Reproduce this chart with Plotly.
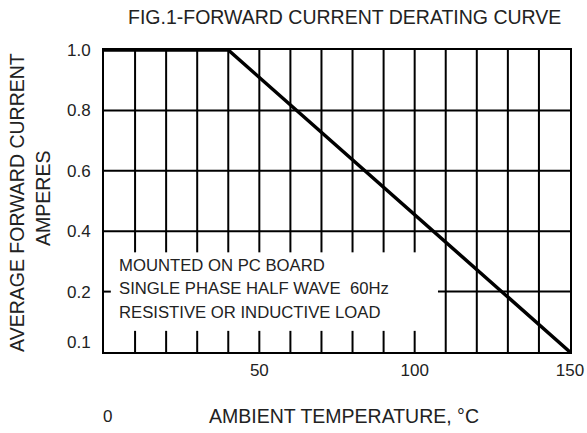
import plotly.graph_objects as go

# ---- data ----
temp_c = [0, 40, 150]             # ambient temperature, °C
current_a = [1.0, 1.0, 0.0]       # average forward current (axis bottom labelled 0.1)

x_ticks = [50, 100, 150]
x_ticktext = ["50", "100", "150"]
y_ticks = [0.033, 0.2, 0.4, 0.6, 0.8, 1.0]
y_ticktext = ["0.1", "0.2", "0.4", "0.6", "0.8", "1.0"]

v_grid_full = [110, 120, 130, 140]
v_grid_partial = [10, 20, 30, 40, 50, 60, 70, 80, 90, 100]
h_grid_full = [0.4, 0.6, 0.8]
h_grid_partial_y = 0.2
h_grid_partial_x0 = 107.5
upper_stub_bottom = 0.33
lower_stub_top = 0.07

note_lines = ["MOUNTED ON PC BOARD",
              "SINGLE PHASE HALF WAVE\u00a0\u00a060Hz",
              "RESISTIVE OR INDUCTIVE LOAD"]
note_y = [0.288, 0.209, 0.132]

FONT = "Liberation Sans, Arial, sans-serif"
LW = 2

fig = go.Figure()
fig.add_trace(go.Scatter(x=temp_c, y=current_a, mode="lines",
                         line=dict(color="black", width=3.5),
                         hoverinfo="skip", showlegend=False))

shapes = []
for xv in v_grid_full:
    shapes.append(dict(type="line", xref="x", yref="y", x0=xv, x1=xv, y0=0, y1=1,
                       line=dict(color="black", width=LW), layer="below"))
for xv in v_grid_partial:
    shapes.append(dict(type="line", xref="x", yref="y", x0=xv, x1=xv, y0=upper_stub_bottom, y1=1,
                       line=dict(color="black", width=LW), layer="below"))
    shapes.append(dict(type="line", xref="x", yref="y", x0=xv, x1=xv, y0=0, y1=lower_stub_top,
                       line=dict(color="black", width=LW), layer="below"))
for yv in h_grid_full:
    shapes.append(dict(type="line", xref="x", yref="y", x0=0, x1=150, y0=yv, y1=yv,
                       line=dict(color="black", width=LW), layer="below"))
shapes.append(dict(type="line", xref="x", yref="y", x0=h_grid_partial_x0, x1=150,
                   y0=h_grid_partial_y, y1=h_grid_partial_y,
                   line=dict(color="black", width=LW), layer="below"))
shapes.append(dict(type="line", xref="x", yref="y", x0=0, x1=2.2,
                   y0=h_grid_partial_y, y1=h_grid_partial_y,
                   line=dict(color="black", width=LW), layer="below"))

annotations = [
    dict(text="FIG.1-FORWARD CURRENT DERATING CURVE", xref="paper", yref="paper",
         x=0.516, y=1.0, yshift=33, xanchor="center", yanchor="middle", showarrow=False,
         font=dict(family=FONT, size=19.5, color="#222")),
    dict(text="AMBIENT TEMPERATURE, °C", xref="paper", yref="paper",
         x=0.514, y=0, yshift=-64, xanchor="center", yanchor="middle", showarrow=False,
         font=dict(family=FONT, size=19.5, color="#222")),
    dict(text="0", xref="x", yref="paper", x=1, y=0, yshift=-64,
         xanchor="center", yanchor="middle", showarrow=False,
         font=dict(family=FONT, size=17, color="#222")),
    dict(text="AVERAGE FORWARD CURRENT", xref="paper", yref="paper",
         x=-0.1867, y=0.497, xanchor="center", yanchor="middle", textangle=-90,
         showarrow=False, font=dict(family=FONT, size=19.5, color="#222")),
    dict(text="AMPERES", xref="paper", yref="paper",
         x=-0.131, y=0.51, xanchor="center", yanchor="middle", textangle=-90,
         showarrow=False, font=dict(family=FONT, size=19.5, color="#222")),
]
for txt, yv in zip(note_lines, note_y):
    annotations.append(dict(text=txt, xref="x", yref="y", x=4.3, y=yv,
                            xanchor="left", yanchor="middle", align="left", showarrow=False,
                            font=dict(family=FONT, size=16.7, color="#222")))

fig.update_layout(
    width=587, height=433,
    margin=dict(l=104, r=17, t=50, b=81),
    paper_bgcolor="white", plot_bgcolor="white",
    shapes=shapes, annotations=annotations,
    showlegend=False,
    xaxis=dict(range=[0, 150], tickvals=x_ticks, ticktext=x_ticktext,
               showgrid=False, zeroline=False, ticks="",
               showline=True, mirror=True, linecolor="black", linewidth=LW,
               ticklabelstandoff=2, automargin=False,
               tickfont=dict(family=FONT, size=17, color="#222")),
    yaxis=dict(range=[0, 1], tickvals=y_ticks, ticktext=y_ticktext,
               showgrid=False, zeroline=False, ticks="",
               showline=True, mirror=True, linecolor="black", linewidth=LW,
               ticklabelstandoff=8, automargin=False,
               tickfont=dict(family=FONT, size=17, color="#222")),
)

fig.write_html("out.html", config={"displayModeBar": False},
               post_script="document.body.style.margin='0';document.body.style.padding='0';")
